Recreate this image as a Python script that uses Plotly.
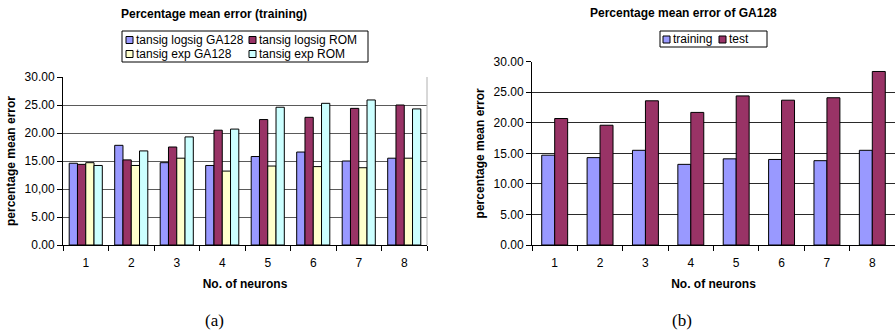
import plotly.graph_objects as go

# Number of hidden neurons (category axis)
neurons = ["1", "2", "3", "4", "5", "6", "7", "8"]

# Panel (a): percentage mean error on the training set
tansig_logsig_ga128 = [14.6, 17.8, 14.7, 14.2, 15.8, 16.6, 15.0, 15.5]
tansig_logsig_rom = [14.4, 15.2, 17.5, 20.5, 22.4, 22.8, 24.4, 25.0]
tansig_exp_ga128 = [14.7, 14.2, 15.5, 13.2, 14.1, 14.0, 13.8, 15.5]
tansig_exp_rom = [14.2, 16.8, 19.3, 20.7, 24.6, 25.3, 25.9, 24.3]

# Panel (b): GA128 training vs test error
ga128_training = [14.7, 14.3, 15.5, 13.2, 14.1, 14.0, 13.8, 15.5]
ga128_test = [20.7, 19.6, 23.6, 21.7, 24.4, 23.7, 24.1, 28.4]

yticks = [0, 5, 10, 15, 20, 25, 30]
yticktext_a = ["0.00", "5.00", "10,00", "15.00", "20.00", "25.00", "30.00"]
yticktext_b = ["0.00", "5.00", "10.00", "15.00", "20.00", "25.00", "30.00"]

W, H = 895, 334
FONT = "Liberation Sans, Arial, sans-serif"

BLUE = "#9999FF"
PLUM = "#993366"
CREAM = "#FFFFCC"
ICE = "#CCFFFF"


def px(x):
    return x / W


def py(y):
    return 1 - y / H


fig = go.Figure()

# Panel (a): four bars per group, Excel-like 150% gap
series_a = [
    ("tansig logsig GA128", tansig_logsig_ga128, BLUE),
    ("tansig logsig ROM", tansig_logsig_rom, PLUM),
    ("tansig exp GA128", tansig_exp_ga128, CREAM),
    ("tansig exp ROM", tansig_exp_rom, ICE),
]
wa = 1 / 5.5
for i, (name, vals, col) in enumerate(series_a):
    fig.add_trace(go.Bar(
        x=neurons, y=vals, name=name, xaxis="x", yaxis="y",
        width=wa, offset=-2 * wa + i * wa,
        marker=dict(color=col, line=dict(color="black", width=1)),
        showlegend=False,
    ))

# Panel (b): two bars per group
series_b = [
    ("training", ga128_training, BLUE),
    ("test", ga128_test, PLUM),
]
wb = 1 / 3.5
for i, (name, vals, col) in enumerate(series_b):
    fig.add_trace(go.Bar(
        x=neurons, y=vals, name=name, xaxis="x2", yaxis="y2",
        width=wb, offset=-wb + i * wb,
        marker=dict(color=col, line=dict(color="black", width=1)),
        showlegend=False,
    ))

tickfont = dict(family=FONT, size=12, color="black")
titlefont = dict(family=FONT, size=12, color="black", weight="bold")

xcommon = dict(
    type="category", range=[-0.5, 7.5], tickson="boundaries",
    ticks="outside", ticklen=5, tickcolor="black", tickwidth=1,
    ticklabelstandoff=7,
    showline=True, linecolor="black", linewidth=1,
    showgrid=False, zeroline=False, tickfont=tickfont,
    automargin=False,
)
ycommon = dict(
    range=[0, 30], tickvals=yticks,
    ticks="outside", ticklen=5, tickcolor="black", tickwidth=1,
    showline=True, linecolor="black", linewidth=1,
    showgrid=True, gridwidth=1, zeroline=False, tickfont=tickfont,
    automargin=False,
)

fig.update_layout(
    width=W, height=H,
    margin=dict(l=0, r=0, t=0, b=0),
    paper_bgcolor="white", plot_bgcolor="white",
    barmode="overlay",
    xaxis=dict(domain=[px(63), px(427)], anchor="y",
               title=dict(text="No. of neurons", font=titlefont, standoff=10),
               **xcommon),
    yaxis=dict(domain=[py(245), py(77)], anchor="x",
               ticktext=yticktext_a, gridcolor="#5A5A5A",
               title=dict(text="percentage mean error", font=titlefont, standoff=6),
               **ycommon),
    xaxis2=dict(domain=[px(532), 1.0], anchor="y2",
                title=dict(text="No. of neurons", font=titlefont, standoff=10),
                **xcommon),
    yaxis2=dict(domain=[py(245), py(61.7)], anchor="x2",
                ticktext=yticktext_b, gridcolor="#2A2A2A",
                title=dict(text="percentage mean error", font=titlefont, standoff=6),
                **ycommon),
)

shapes = []
annotations = []

# right border of panel (a) plot area
shapes.append(dict(type="line", xref="x domain", yref="y domain",
                   x0=1, x1=1, y0=0, y1=1, line=dict(color="#B0B0B0", width=1)))

# chart titles
annotations.append(dict(text="Percentage mean error (training)", x=px(214), y=py(14),
                        xref="paper", yref="paper", showarrow=False,
                        xanchor="center", yanchor="middle", font=titlefont))
annotations.append(dict(text="Percentage mean error of GA128", x=px(683), y=py(13),
                        xref="paper", yref="paper", showarrow=False,
                        xanchor="center", yanchor="middle", font=titlefont))


def legend_box(x0, y0, x1, y1):
    shapes.append(dict(type="rect", xref="paper", yref="paper",
                       x0=px(x0), x1=px(x1), y0=py(y1), y1=py(y0),
                       line=dict(color="black", width=1), fillcolor="white"))


def legend_item(mx, cy, color, label):
    shapes.append(dict(type="rect", xref="paper", yref="paper",
                       x0=px(mx), x1=px(mx + 7), y0=py(cy + 3.5), y1=py(cy - 3.5),
                       line=dict(color="black", width=1), fillcolor=color))
    annotations.append(dict(text=label, x=px(mx + 8), y=py(cy),
                            xref="paper", yref="paper", showarrow=False,
                            xanchor="left", yanchor="middle",
                            font=dict(family=FONT, size=12, color="black")))


# legend of panel (a), two rows by two columns
legend_box(122, 31, 368, 62)
legend_item(126, 40, series_a[0][2], series_a[0][0])
legend_item(249, 40, series_a[1][2], series_a[1][0])
legend_item(126, 54, series_a[2][2], series_a[2][0])
legend_item(249, 54, series_a[3][2], series_a[3][0])

# legend of panel (b)
legend_box(660, 31, 767, 47)
legend_item(663, 39.5, series_b[0][2], series_b[0][0])
legend_item(719, 39.5, series_b[1][2], series_b[1][0])

# sub-figure captions
capfont = dict(family="Liberation Serif, DejaVu Serif, serif", size=17, color="black")
annotations.append(dict(text="(a)", x=px(214), y=py(320), xref="paper", yref="paper",
                        showarrow=False, xanchor="center", yanchor="middle", font=capfont))
annotations.append(dict(text="(b)", x=px(682), y=py(320), xref="paper", yref="paper",
                        showarrow=False, xanchor="center", yanchor="middle", font=capfont))

fig.update_layout(shapes=shapes, annotations=annotations)

fig.write_html("out.html")
